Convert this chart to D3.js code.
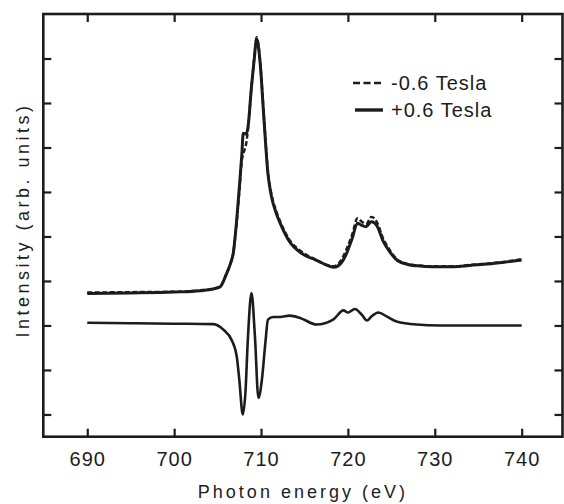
<!DOCTYPE html>
<html>
<head>
<meta charset="utf-8">
<script src="https://cdn.jsdelivr.net/npm/d3@7"></script>
<style>
  html, body { margin: 0; padding: 0; background: #fff; }
  svg { display: block; font-family: "Liberation Sans", Arial, sans-serif; }
</style>
</head>
<body>
<svg id="chart" width="564" height="504"></svg>
<script>
// photon energy (eV) for the two XAS spectra
const energy = [690, 695, 700, 703, 704.5, 705.3, 706.0, 706.5, 706.8, 707.2, 707.5, 707.8, 707.95, 708.3, 708.5,
  708.9, 709.2, 709.5, 709.9, 710.3, 710.8, 711.2, 711.7, 712.2, 713.4, 714.4, 715.3, 716.1, 717.3, 718.4,
  719.2, 719.8, 720.5, 721.1, 721.5, 722.1, 722.7, 723.4, 724.0, 724.8, 725.7, 726.9, 728, 729.8, 732.3,
  734, 736.1, 738, 740];

// +0.6 Tesla (solid)
const plusField = [0.72, 0.73, 0.75, 0.78, 0.82, 0.87, 1.15, 1.40, 1.62, 2.37, 3.10, 3.87, 4.32, 4.30, 4.46,
  5.36, 5.95, 6.44, 5.90, 4.75, 3.40, 2.90, 2.55, 2.30, 1.85, 1.66, 1.55, 1.49, 1.38, 1.31,
  1.40, 1.60, 1.96, 2.30, 2.26, 2.22, 2.33, 2.22, 1.92, 1.66, 1.46, 1.37, 1.34, 1.32, 1.32,
  1.35, 1.38, 1.42, 1.47];

// -0.6 Tesla (dashed)
const minusField = [0.74, 0.75, 0.76, 0.79, 0.83, 0.88, 1.15, 1.40, 1.62, 2.33, 3.00, 3.72, 3.85, 4.10, 4.40,
  5.36, 5.97, 6.48, 5.93, 4.80, 3.45, 2.95, 2.60, 2.34, 1.89, 1.70, 1.58, 1.50, 1.38, 1.33,
  1.46, 1.70, 2.05, 2.41, 2.35, 2.28, 2.44, 2.30, 1.98, 1.70, 1.48, 1.38, 1.35, 1.33, 1.33,
  1.36, 1.39, 1.43, 1.49];

// dichroism (difference) spectrum
const dichroEnergy = [690, 695, 700, 704.5, 705.7, 706.6, 707.2, 707.5, 707.9, 708.2, 708.5, 708.9, 709.3,
  709.7, 710.1, 710.5, 710.8, 711.4, 712.2, 713.3, 714.5, 716.4, 718.3, 719.5, 720.0, 720.8, 721.6,
  722.2, 722.7, 723.5, 724.5, 725.6, 727.9, 730.6, 735, 740];
const dichroism = [0.06, 0.05, 0.04, 0.03, -0.10, -0.32, -0.69, -1.22, -2.00, -1.52, -0.25, 0.73, -0.25,
  -1.63, -1.22, -0.39, 0.13, 0.19, 0.19, 0.22, 0.17, 0.02, 0.13, 0.34, 0.29, 0.37, 0.24,
  0.11, 0.20, 0.29, 0.20, 0.09, 0.02, 0.00, 0.00, 0.00];

const xTicks = [690, 700, 710, 720, 730, 740];
const yTicks = [-2, -1, 0, 1, 2, 3, 4, 5, 6];
const legendLabels = ["-0.6 Tesla", "+0.6 Tesla"];

const ink = "#1c1c1c";
const plotLeft = 43.3, plotRight = 562.5, plotTop = 14, plotBottom = 436.7;

const svg = d3.select("#chart");

const x = d3.scaleLinear().domain([684.94, 744.7]).range([plotLeft, plotRight]);
const y = d3.scaleLinear().domain([-2.5, 7]).range([plotBottom, plotTop]);

const line = d3.line()
  .x(d => x(d[0]))
  .y(d => y(d[1]))
  .curve(d3.curveMonotoneX);

// spectra
svg.append("path")
  .datum(energy.map((e, i) => [e, plusField[i]]))
  .attr("d", line)
  .attr("fill", "none")
  .attr("stroke", ink)
  .attr("stroke-width", 3)
  .attr("stroke-linejoin", "round");

svg.append("path")
  .datum(energy.map((e, i) => [e, minusField[i]]))
  .attr("d", line)
  .attr("fill", "none")
  .attr("stroke", ink)
  .attr("stroke-width", 2.4)
  .attr("stroke-dasharray", "5,2.5");

svg.append("path")
  .datum(dichroEnergy.map((e, i) => [e, dichroism[i]]))
  .attr("d", line)
  .attr("fill", "none")
  .attr("stroke", ink)
  .attr("stroke-width", 2.6)
  .attr("stroke-linejoin", "round");

// axes, ticks pointing inward
const styleAxis = g => {
  g.select(".domain").remove();
  g.selectAll(".tick line").attr("stroke", ink).attr("stroke-width", 2.2);
};

svg.append("g")
  .attr("transform", `translate(0,${plotBottom})`)
  .call(d3.axisBottom(x).tickValues(xTicks).tickSizeInner(-8).tickSizeOuter(0).tickPadding(15).tickFormat(d3.format("d")))
  .call(styleAxis)
  .call(g => g.selectAll(".tick text")
    .attr("fill", ink)
    .attr("font-size", 20)
    .attr("letter-spacing", 1)
    .attr("font-family", "Liberation Sans, Arial, sans-serif"));

svg.append("g")
  .attr("transform", `translate(0,${plotTop})`)
  .call(d3.axisTop(x).tickValues(xTicks).tickSizeInner(-8).tickSizeOuter(0).tickFormat(""))
  .call(styleAxis);

svg.append("g")
  .attr("transform", `translate(${plotLeft},0)`)
  .call(d3.axisLeft(y).tickValues(yTicks).tickSizeInner(-8).tickSizeOuter(0).tickFormat(""))
  .call(styleAxis);

svg.append("g")
  .attr("transform", `translate(${plotRight},0)`)
  .call(d3.axisRight(y).tickValues(yTicks).tickSizeInner(-8).tickSizeOuter(0).tickFormat(""))
  .call(styleAxis);

// frame
svg.append("rect")
  .attr("x", plotLeft).attr("y", plotTop)
  .attr("width", plotRight - plotLeft).attr("height", plotBottom - plotTop)
  .attr("fill", "none")
  .attr("stroke", ink)
  .attr("stroke-width", 2.6);

// axis titles
svg.append("text")
  .attr("x", (plotLeft + plotRight) / 2)
  .attr("y", 498)
  .attr("text-anchor", "middle")
  .attr("font-size", 18)
  .attr("letter-spacing", 3)
  .attr("fill", ink)
  .text("Photon energy (eV)");

svg.append("text")
  .attr("transform", "translate(29,220) rotate(-90)")
  .attr("text-anchor", "middle")
  .attr("font-size", 18)
  .attr("letter-spacing", 3.5)
  .attr("fill", ink)
  .text("Intensity (arb. units)");

// legend
const legend = svg.append("g").attr("transform", "translate(353,83)");
legend.selectAll("line")
  .data(legendLabels)
  .join("line")
  .attr("x1", (d, i) => i === 0 ? 0 : 2)
  .attr("x2", 30)
  .attr("y1", (d, i) => i * 27)
  .attr("y2", (d, i) => i * 27)
  .attr("stroke", ink)
  .attr("stroke-width", (d, i) => i === 0 ? 2.4 : 3.4)
  .attr("stroke-dasharray", (d, i) => i === 0 ? "7,3.5" : null);

legend.selectAll("text")
  .data(legendLabels)
  .join("text")
  .attr("x", 38)
  .attr("y", (d, i) => i * 27 + 7)
  .attr("font-size", 20)
  .attr("letter-spacing", 1)
  .attr("fill", ink)
  .text(d => d);
</script>
</body>
</html>
